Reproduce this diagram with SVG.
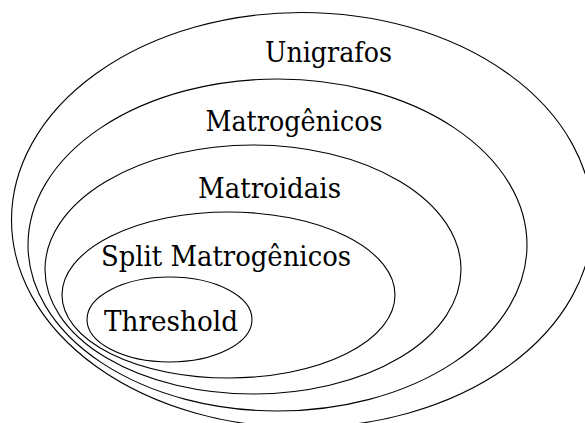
<svg xmlns="http://www.w3.org/2000/svg" width="585" height="423" viewBox="0 0 585 423">
  <style>
    .set { fill: none; stroke: #000; stroke-width: 1.1; }
    .lbl { font-family: "DejaVu Serif", serif; font-size: 28px; fill: #000; text-anchor: middle; }
  </style>
  <rect width="585" height="423" fill="#fff"/>
  <g id="unigrafos">
    <ellipse class="set" cx="302" cy="220" rx="290.5" ry="207.5"/>
    <text class="lbl" x="328.5" y="62" textLength="127" lengthAdjust="spacingAndGlyphs">Unigrafos</text>
  </g>
  <g id="matrogenicos">
    <ellipse class="set" cx="277.5" cy="245" rx="249.5" ry="166"/>
    <text class="lbl" x="294" y="131" textLength="177" lengthAdjust="spacingAndGlyphs">Matrogênicos</text>
  </g>
  <g id="matroidais">
    <ellipse class="set" cx="253" cy="269.5" rx="208" ry="124.5"/>
    <text class="lbl" x="269.5" y="198" textLength="143" lengthAdjust="spacingAndGlyphs">Matroidais</text>
  </g>
  <g id="split-matrogenicos">
    <ellipse class="set" cx="228.5" cy="295" rx="166.5" ry="83"/>
    <text class="lbl" x="226" y="266" textLength="250" lengthAdjust="spacingAndGlyphs">Split Matrogênicos</text>
  </g>
  <g id="threshold">
    <ellipse class="set" cx="169.5" cy="319.5" rx="82.5" ry="42.5"/>
    <text class="lbl" x="171" y="331" textLength="134" lengthAdjust="spacingAndGlyphs">Threshold</text>
  </g>
  <g id="connectors"/>
</svg>
